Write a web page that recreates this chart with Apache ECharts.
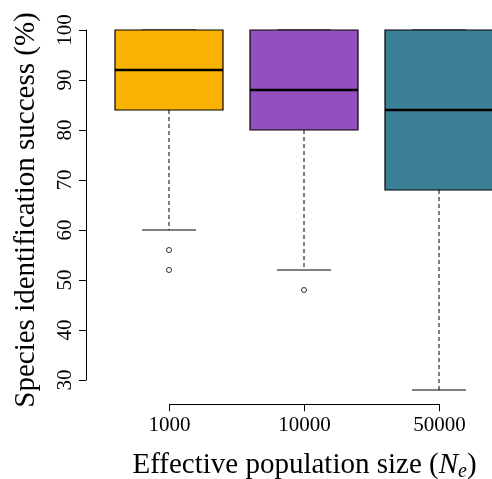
<!DOCTYPE html>
<html>
<head>
<meta charset="utf-8">
<script src="https://cdn.jsdelivr.net/npm/echarts@6/dist/echarts.min.js"></script>
<style>html,body{margin:0;padding:0;background:#fff;overflow:hidden;}#c{width:492px;height:479px;}</style>
</head>
<body>
<div id="c"></div>
<script>
const categories = ['1000', '10000', '50000'];
const lowerWhisker = [60, 52, 28];
const q1 = [84, 80, 68];
const median = [92, 88, 84];
const q3 = [100, 100, 100];
const upperWhisker = [100, 100, 100];
const outliers = [[0, 56], [0, 52], [1, 48]];
const boxColors = ['#F9B200', '#944FBE', '#3B7F96'];
const yTicks = [30, 40, 50, 60, 70, 80, 90, 100];

const FONT = 'Liberation Serif';
const boxData = categories.map((c, i) => [i, lowerWhisker[i], q1[i], median[i], q3[i], upperWhisker[i]]);

function renderBox(params, api) {
  const i = api.value(0);
  const pLow = api.coord([i, api.value(1)]);
  const pQ1 = api.coord([i, api.value(2)]);
  const pMed = api.coord([i, api.value(3)]);
  const pQ3 = api.coord([i, api.value(4)]);
  const pHigh = api.coord([i, api.value(5)]);
  const band = api.size([1, 0])[0];
  const w = band * 0.8;
  const x = pMed[0];
  const cap = w / 2;
  const children = [
    { type: 'line', shape: { x1: x, y1: pQ1[1], x2: x, y2: pLow[1] },
      style: { stroke: '#000', lineWidth: 1, lineDash: [4, 3] } },
    { type: 'line', shape: { x1: x, y1: pQ3[1], x2: x, y2: pHigh[1] },
      style: { stroke: '#000', lineWidth: 1, lineDash: [4, 3] } },
    { type: 'line', shape: { x1: x - cap / 2, y1: pLow[1], x2: x + cap / 2, y2: pLow[1] },
      style: { stroke: '#000', lineWidth: 1.2 } },
    { type: 'line', shape: { x1: x - cap / 2, y1: pHigh[1], x2: x + cap / 2, y2: pHigh[1] },
      style: { stroke: '#000', lineWidth: 1.2 } },
    { type: 'rect', shape: { x: x - w / 2, y: pQ3[1], width: w, height: pQ1[1] - pQ3[1] },
      style: { fill: boxColors[i], stroke: '#000', lineWidth: 1.2 } },
    { type: 'line', shape: { x1: x - w / 2, y1: pMed[1], x2: x + w / 2, y2: pMed[1] },
      style: { stroke: '#000', lineWidth: 2.6 } }
  ];
  return { type: 'group', children: children };
}

const chart = echarts.init(document.getElementById('c'), null, { renderer: 'canvas' });
chart.setOption({
  backgroundColor: '#ffffff',
  animation: false,
  grid: [
    { left: 101.5, top: 15.6, width: 390.5, height: 388.8 },
    { left: 86, top: 30, width: 1, height: 350 },
    { left: 169.5, top: 404, width: 270, height: 1 }
  ],
  xAxis: [
    { gridIndex: 0, type: 'value', min: -0.5, max: -0.5 + 390.5 / 135, show: false },
    { gridIndex: 1, type: 'value', show: false },
    { gridIndex: 2, type: 'category', data: categories, boundaryGap: false, position: 'bottom',
      axisLine: { lineStyle: { color: '#000', width: 1 } },
      axisTick: { length: 7, lineStyle: { color: '#000' } },
      axisLabel: { margin: 11, fontFamily: FONT, fontSize: 21, color: '#000' },
      name: 'Effective population size ({n|N}{s|e})', nameLocation: 'middle', nameGap: 46,
      nameTextStyle: { fontFamily: FONT, fontSize: 29, color: '#000',
        rich: {
          n: { fontFamily: FONT, fontStyle: 'italic', fontSize: 29, color: '#000' },
          s: { fontFamily: FONT, fontStyle: 'italic', fontSize: 20, color: '#000', verticalAlign: 'bottom', padding: [11, 0, 0, 0] }
        } }
    }
  ],
  yAxis: [
    { gridIndex: 0, type: 'value', min: 25.12, max: 102.88,
      axisLine: { show: false }, axisTick: { show: false }, axisLabel: { show: false }, splitLine: { show: false },
      name: 'Species identification success (%)', nameLocation: 'middle', nameGap: 61,
      nameTextStyle: { fontFamily: FONT, fontSize: 29, color: '#000' } },
    { gridIndex: 1, type: 'value', min: yTicks[0], max: yTicks[yTicks.length - 1], interval: 10,
      axisLine: { show: true, lineStyle: { color: '#000', width: 1 } },
      axisTick: { show: true, length: 7, lineStyle: { color: '#000' } },
      axisLabel: { rotate: 90, margin: 10, fontFamily: FONT, fontSize: 21, color: '#000' },
      splitLine: { show: false } },
    { gridIndex: 2, type: 'value', show: false }
  ],
  series: [
    { type: 'custom', xAxisIndex: 0, yAxisIndex: 0, data: boxData, renderItem: renderBox,
      encode: { x: 0, y: [1, 2, 3, 4, 5] }, clip: false, z: 2 },
    { type: 'scatter', xAxisIndex: 0, yAxisIndex: 0, data: outliers, symbol: 'circle', symbolSize: 5,
      itemStyle: { color: '#fff', borderColor: '#000', borderWidth: 1 }, z: 3 }
  ]
});
</script>
</body>
</html>
